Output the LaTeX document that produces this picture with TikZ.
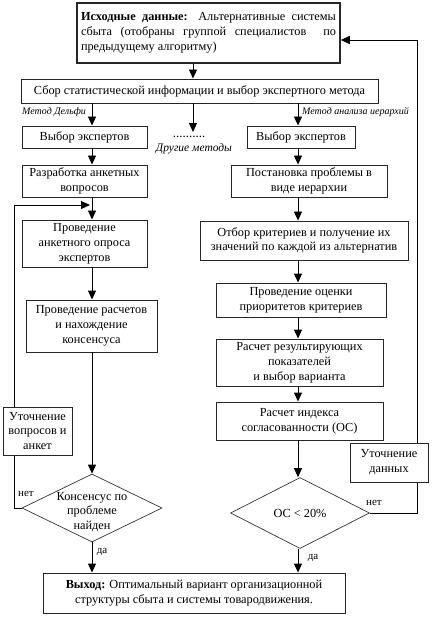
\documentclass[tikz,border=0pt]{standalone}
\usepackage{fontspec}
\setmainfont{Liberation Serif}
\usetikzlibrary{arrows.meta,shapes.geometric,backgrounds}
\begin{document}
\begin{tikzpicture}[x=1pt,y=-1pt,
  font=\fontsize{12.3}{14.8}\selectfont,
  box/.style={draw=black!85,line width=0.9pt,fill=white,inner sep=1pt,align=center,minimum width=#1},
  dia/.style={draw=black!80,line width=0.7pt,shape=diamond,inner sep=0pt,minimum width=#1},
  arr/.style={line width=0.9pt,-{Triangle[length=9pt,width=8pt]}},
  ln/.style={line width=0.9pt},
  meth/.style={font=\fontsize{10}{11}\selectfont\itshape,inner sep=0pt},
  lbl/.style={font=\fontsize{11}{12}\selectfont,inner sep=0pt}]
\useasboundingbox (0,0) rectangle (432,620);
% nodes
\node[box=263pt,line width=1.6pt,minimum height=60pt,text width=255pt,align=justify] (top) at (208.5,33)
 {\textbf{Исходные данные:} Альтернативные системы\linebreak сбыта (отобраны группой специалистов \ по\linebreak предыдущему алгоритму)};
\node[box=357pt,minimum height=24pt] (sbor) at (199.5,91) {Сбор статистической информации и выбор экспертного метода};
\node[box=125pt,minimum height=22pt] (vyb1) at (84.5,137) {Выбор экспертов};
\node[box=108pt,minimum height=22pt] (vyb2) at (301,137) {Выбор экспертов};
\node[inner sep=0pt,font=\fontsize{13}{14}\selectfont] (dots) at (189,137) {..........};
\node[meth,font=\fontsize{11.5}{12}\selectfont\itshape] (oth) at (194,149) {Другие методы};
\node[meth,anchor=west] (md) at (22,112) {Метод Дельфи};
\node[meth,anchor=west] (mai) at (302,112) {Метод анализа иерархий};
\node[box=125pt,minimum height=32pt] (razr) at (84.5,181) {Разработка анкетных\\вопросов};
\node[box=156pt,minimum height=32pt] (post) at (309,181) {Постановка проблемы в\\виде иерархии};
\node[box=125pt,minimum height=47pt] (prov1) at (84.5,243.5) {Проведение\\анкетного опроса\\экспертов};
\node[box=208pt,minimum height=39pt] (otbor) at (304,240.5) {Отбор критериев и получение их\\значений по каждой из альтернатив};
\node[box=131pt,minimum height=52pt] (prov2) at (91.5,326) {Проведение расчетов\\и нахождение\\консенсуса};
\node[box=170pt,minimum height=34pt] (ocen) at (301,300) {Проведение оценки\\приоритетов критериев};
\node[box=167pt,minimum height=47pt] (rez) at (299.5,362.5) {Расчет результирующих\\показателей\\и выбор варианта};
\node[box=167pt,minimum height=38pt] (ind) at (299.5,421) {Расчет индекса\\согласованности (ОС)};
\node[box=69pt,minimum height=48pt] (ut1) at (37.5,431) {Уточнение\\вопросов и\\анкет};
\node[box=78pt,minimum height=39pt] (ut2) at (389,462.5) {Уточнение\\данных};
\node[dia=140pt,minimum height=68pt] (d1) at (92,508) {\makebox[0pt]{\smash{\raisebox{-7pt}{\begin{tabular}{@{}c@{}}Консенсус по\\проблеме\\найден\end{tabular}}}}};
\node[dia=139pt,minimum height=71pt] (d2) at (300,513) {\makebox[0pt]{ОС < 20\%}};
\node[box=302pt,minimum height=40pt] (out) at (194,593) {\textbf{Выход:} Оптимальный вариант организационной\\структуры сбыта и системы товародвижения.};
\node[lbl] (n1) at (26,494) {нет};
\node[lbl] (n2) at (374,503) {нет};
\node[lbl] (y1) at (102,552) {да};
\node[lbl] (y2) at (313,558) {да};
% columns
\coordinate (L) at (92,0);
\coordinate (M) at (193,0);
\coordinate (R) at (298,0);
\coordinate (LL) at (14,0);
\coordinate (RL) at (417,0);
% arrows
\draw[arr] (top.south -| M) -- (sbor.north -| M);
\draw[arr] (sbor.south -| L) -- (vyb1.north -| L);
\draw[arr] (sbor.south -| M) -- ([yshift=4pt]dots.north -| M);
\draw[arr] (sbor.south -| R) -- (vyb2.north -| R);
\draw[arr] (vyb1.south -| L) -- (razr.north -| L);
\draw[arr] (vyb2.south -| R) -- (post.north -| R);
\draw[arr] (razr.south -| L) -- (prov1.north -| L);
\draw[arr] (post.south -| R) -- (otbor.north -| R);
\draw[arr] (prov1.south -| L) -- (prov2.north -| L);
\draw[arr] (otbor.south -| R) -- (ocen.north -| R);
\draw[arr] (ocen.south -| R) -- (rez.north -| R);
\draw[arr] (rez.south -| R) -- (ind.north -| R);
\draw[arr] (prov2.south -| L) -- (d1.north);
\draw[arr] (ind.south -| R) -- (d2.north -| R);
\draw[arr] (d1.south) -- (out.north -| d1.south);
\draw[arr] (d2.south -| R) -- (out.north -| R);
\coordinate (lin) at (90,205);
\begin{scope}[on background layer]
\draw[ln] (d1.west) -- (d1.west -| LL) -- (LL |- lin);
\draw[arr] (LL |- lin) -- (lin);
\draw[ln] (d2.east) -- (d2.east -| RL) -- (RL |- 0,40);
\draw[arr] (RL |- 0,40) -- (top.east |- 0,40);
\end{scope}
\end{tikzpicture}
\end{document}
